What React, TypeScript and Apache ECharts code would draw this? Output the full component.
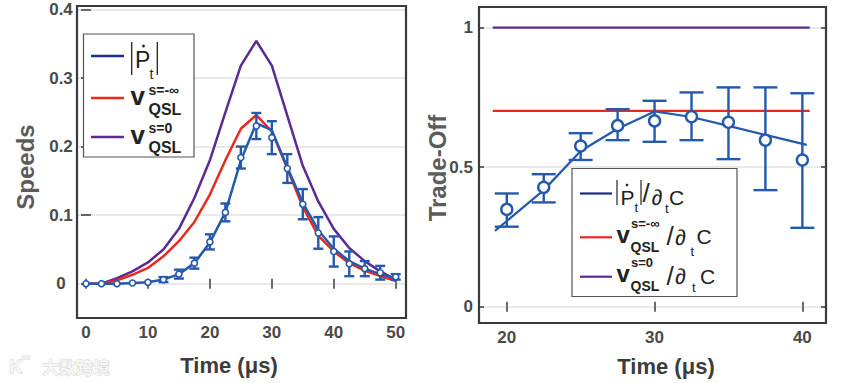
import React, { useEffect, useRef } from "react";
import * as echarts from "echarts";

// ---------- data (left panel: speeds) ----------
const timeL = [0, 2.5, 5, 7.5, 10, 12.5, 15, 17.5, 20, 22.5, 25, 27.5, 30, 32.5, 35, 37.5, 40, 42.5, 45, 47.5, 50];
const pdotMeas = [0, 0, 0, 0.001, 0.002, 0.006, 0.014, 0.03, 0.061, 0.104, 0.184, 0.23, 0.213, 0.168, 0.116, 0.074, 0.047, 0.029, 0.022, 0.016, 0.01];
const pdotErr = [0, 0, 0, 0, 0.001, 0.0036, 0.0065, 0.008, 0.011, 0.013, 0.016, 0.019, 0.024, 0.021, 0.022, 0.023, 0.022, 0.018, 0.011, 0.01, 0.004];
const pdotFit = [0, 0, 0, 0.001, 0.002, 0.006, 0.014, 0.03, 0.06, 0.104, 0.18, 0.234, 0.224, 0.17, 0.118, 0.078, 0.051, 0.033, 0.022, 0.014, 0.008];
const vqslInf = [0, 0, 0.005, 0.013, 0.023, 0.04, 0.062, 0.09, 0.13, 0.18, 0.226, 0.246, 0.222, 0.168, 0.112, 0.07, 0.047, 0.03, 0.019, 0.011, 0.004];
const vqslZero = [0, 0, 0.008, 0.018, 0.031, 0.05, 0.08, 0.125, 0.18, 0.25, 0.318, 0.354, 0.318, 0.245, 0.172, 0.12, 0.08, 0.052, 0.033, 0.018, 0.006];

// ---------- data (right panel: trade-off) ----------
const timeR = [20, 22.5, 25, 27.5, 30, 32.5, 35, 37.5, 40];
const ratioMeas = [0.349, 0.428, 0.576, 0.649, 0.666, 0.681, 0.661, 0.597, 0.526];
const ratioLo = [0.287, 0.374, 0.526, 0.597, 0.591, 0.597, 0.529, 0.418, 0.283];
const ratioHi = [0.406, 0.475, 0.622, 0.708, 0.738, 0.768, 0.786, 0.786, 0.765];
const timeFitR = [19.2, 22.5, 25, 27.5, 30, 32.5, 35, 37.5, 40.3];
const ratioFit = [0.272, 0.418, 0.558, 0.638, 0.7, 0.68, 0.648, 0.616, 0.58];
const boundSpan = [19.05, 40.5];
const boundInf = 0.702;
const boundZero = 1.0;

// ---------- axis ranges ----------
const xRangeL = [-1.45, 51.66];
const yRangeL = [-0.05, 0.405];
const xRangeR = [18.12, 41.6];
const yRangeR = [-0.058, 1.074];

const FONT = '"Liberation Sans", Arial, Helvetica, sans-serif';
const BLUE = "#2459ad";
const NAVY = "#1c2d8a";
const RED = "#e8291c";
const PURPLE = "#5c2a92";
const FRAME = "#3a3a3a";
const TICKCOL = "#4a4a4a";

const G0 = { left: 77, top: 6, width: 329, height: 312 };
const G1 = { left: 479, top: 7, width: 347, height: 316 };

function multipleFmt(step: number) {
  return (v: number) => {
    const r = Math.round(v / step);
    if (Math.abs(v / step - r) > 1e-6) return "";
    const val = r * step;
    return String(Math.round(val * 1000) / 1000);
  };
}

function mkAxis(gridIndex: number, range: number[], position: string, split: number, labels: boolean, step: number, margin: number, grid: boolean, align?: string) {
  return {
    type: "value",
    gridIndex,
    position,
    min: range[0],
    max: range[1],
    splitNumber: split,
    axisLine: { show: false },
    axisTick: { show: true, inside: true, length: 5, lineStyle: { color: FRAME, width: 1.5 } },
    axisLabel: labels
      ? {
          show: true,
          margin,
          formatter: multipleFmt(step),
          showMinLabel: false,
          showMaxLabel: false,
          color: TICKCOL,
          fontSize: 17,
          fontWeight: "bold",
          fontFamily: FONT,
          ...(align ? { align } : {}),
        }
      : { show: false },
    splitLine: grid
      ? { show: true, showMinLine: false, showMaxLine: false, lineStyle: { color: "#e2e2e2", width: 1.5 } }
      : { show: false },
  };
}

function errorBarSeries(data: number[][], xi: number, yi: number, cap: number, width: number) {
  return {
    type: "custom",
    xAxisIndex: xi,
    yAxisIndex: yi,
    z: 4,
    silent: true,
    encode: { x: 0, y: [1, 2] },
    data,
    renderItem: (params: any, api: any) => {
      const x = api.value(0);
      const lo = api.value(1);
      const hi = api.value(2);
      const a = api.coord([x, hi]);
      const b = api.coord([x, lo]);
      const hw = cap / 2;
      const style = { stroke: BLUE, lineWidth: width, fill: "none" };
      return {
        type: "group",
        children: [
          { type: "line", shape: { x1: a[0], y1: a[1], x2: b[0], y2: b[1] }, style },
          { type: "line", shape: { x1: a[0] - hw, y1: a[1], x2: a[0] + hw, y2: a[1] }, style },
          { type: "line", shape: { x1: b[0] - hw, y1: b[1], x2: b[0] + hw, y2: b[1] }, style },
        ],
      };
    },
  };
}

function txt(text: string, x: number, y: number, size: number, weight: string, color: string, align = "left", rotation = 0) {
  return {
    type: "text",
    x,
    y,
    rotation,
    z: 120,
    silent: true,
    style: {
      text,
      fill: color,
      fontSize: size,
      fontWeight: weight,
      fontFamily: FONT,
      align,
      verticalAlign: "middle",
      textAlign: align,
      textVerticalAlign: "middle",
    },
  };
}

function seg(x1: number, y1: number, x2: number, y2: number, color: string, w: number) {
  return { type: "line", z: 120, silent: true, shape: { x1, y1, x2, y2 }, style: { stroke: color, lineWidth: w } };
}

function buildOption() {
  const leftBars = timeL
    .map((t, i) => [t, pdotMeas[i] - pdotErr[i], pdotMeas[i] + pdotErr[i]])
    .filter((_, i) => pdotErr[i] > 0.0015);
  const rightBars = timeR.map((t, i) => [t, ratioLo[i], ratioHi[i]]);
  const TXT = "#222";

  const graphics: any[] = [
    // frames
    { type: "rect", z: 110, silent: true, shape: { x: G0.left, y: G0.top, width: G0.width, height: G0.height }, style: { fill: "none", stroke: FRAME, lineWidth: 2.2 } },
    { type: "rect", z: 110, silent: true, shape: { x: G1.left, y: G1.top, width: G1.width, height: G1.height }, style: { fill: "none", stroke: FRAME, lineWidth: 2.2 } },
    // axis titles
    txt("Speeds", 25, 167, 24, "bold", "#5b5b5b", "center", Math.PI / 2),
    txt("Time (μs)", 229, 365, 22, "bold", "#3c3c3c", "center"),
    txt("Trade-Off", 437, 168, 24, "bold", "#5b5b5b", "center", Math.PI / 2),
    txt("Time (μs)", 666, 366, 22, "bold", "#3c3c3c", "center"),

    // left legend
    { type: "rect", z: 115, silent: true, shape: { x: 83.5, y: 34, width: 110.5, height: 123 }, style: { fill: "#fff", stroke: "#555", lineWidth: 1.2 } },
    seg(91, 56, 124, 56, NAVY, 2.5),
    seg(91, 98, 124, 98, RED, 2.5),
    seg(91, 137, 124, 137, PURPLE, 2.5),
    seg(131.7, 42, 131.7, 75, TXT, 1.3),
    txt("P", 135, 60, 23, "normal", TXT),
    { type: "circle", z: 120, silent: true, shape: { cx: 143.5, cy: 46, r: 1.4 }, style: { fill: TXT } },
    txt("t", 149.5, 73.5, 14, "normal", TXT),
    seg(157.3, 42, 157.3, 75, TXT, 1.3),
    txt("v", 130.5, 96, 26, "bold", TXT),
    txt("s=-∞", 148.5, 90, 14, "bold", TXT),
    txt("QSL", 148.5, 109.3, 16, "bold", TXT),
    txt("v", 130.5, 134.5, 26, "bold", TXT),
    txt("s=0", 148.5, 128, 14, "bold", TXT),
    txt("QSL", 148.5, 147.5, 16, "bold", TXT),

    // right legend
    { type: "rect", z: 115, silent: true, shape: { x: 572, y: 168.5, width: 165, height: 128 }, style: { fill: "#fff", stroke: "#555", lineWidth: 1.2 } },
    seg(580, 193.5, 612, 193.5, NAVY, 2.2),
    seg(580, 237.3, 612, 237.3, RED, 2.2),
    seg(580, 276.7, 612, 276.7, PURPLE, 2.2),
    seg(617, 180, 617, 205, TXT, 1.2),
    txt("P", 620.5, 197.5, 21, "normal", TXT),
    { type: "circle", z: 120, silent: true, shape: { cx: 627, cy: 185, r: 1.3 }, style: { fill: TXT } },
    txt("t", 634.5, 207.5, 13, "normal", TXT),
    seg(641, 180, 641, 205, TXT, 1.2),
    txt("/", 642.5, 193, 26, "normal", TXT),
    txt("∂", 651.5, 197, 22, "normal", TXT),
    txt("t", 665, 208, 13, "normal", TXT),
    txt("C", 669, 197.5, 21, "normal", TXT),

    txt("v", 616.5, 234.7, 24, "bold", TXT),
    txt("s=-∞", 631, 223, 13, "bold", TXT),
    txt("QSL", 630.5, 246.7, 14, "bold", TXT),
    txt("/", 666.5, 236, 26, "normal", TXT),
    txt("∂", 675, 237, 22, "normal", TXT),
    txt("t", 690.5, 251, 13, "normal", TXT),
    txt("C", 696.5, 236.5, 21, "normal", TXT),

    txt("v", 616.5, 273.5, 24, "bold", TXT),
    txt("s=0", 631, 262, 13, "bold", TXT),
    txt("QSL", 630.5, 286, 14, "bold", TXT),
    txt("/", 666.5, 275.5, 26, "normal", TXT),
    txt("∂", 675, 276, 22, "normal", TXT),
    txt("t", 692, 287, 13, "normal", TXT),
    txt("C", 700, 276.5, 21, "normal", TXT),

    // watermark
    {
      type: "text", x: 9, y: 366, z: 120, silent: true,
      style: { text: "K", fill: "#f6f6f6", stroke: "#cfcfcf", lineWidth: 0.8, fontSize: 19, fontWeight: "bold", fontFamily: FONT, verticalAlign: "middle", textVerticalAlign: "middle" },
    },
    {
      type: "text", x: 22, y: 357, z: 120, silent: true,
      style: { text: "∞", fill: "#f6f6f6", stroke: "#cfcfcf", lineWidth: 0.8, fontSize: 12, fontWeight: "bold", fontFamily: FONT, verticalAlign: "middle", textVerticalAlign: "middle" },
    },
    {
      type: "text", x: 42, y: 366, z: 120, silent: true,
      style: { text: "大数跨境", fill: "#f6f6f6", stroke: "#cfcfcf", lineWidth: 0.8, fontSize: 17, fontWeight: "bold", fontFamily: '"Noto Sans CJK SC", sans-serif', verticalAlign: "middle", textVerticalAlign: "middle" },
    },
  ];

  return {
    animation: false,
    backgroundColor: "#ffffff",
    grid: [
      { ...G0, show: false, containLabel: false, outerBoundsMode: "none" },
      { ...G1, show: false, containLabel: false, outerBoundsMode: "none" },
    ],
    xAxis: [
      mkAxis(0, xRangeL, "bottom", 5, true, 10, 6, false),
      mkAxis(0, xRangeL, "top", 5, false, 10, 6, false),
      mkAxis(1, xRangeR, "bottom", 2, true, 10, 6, false),
      mkAxis(1, xRangeR, "top", 2, false, 10, 6, false),
    ],
    yAxis: [
      mkAxis(0, yRangeL, "left", 5, true, 0.1, 16, true, "center"),
      mkAxis(0, yRangeL, "right", 5, false, 0.1, 6, false),
      mkAxis(1, yRangeR, "left", 2, true, 0.5, 6, true),
      mkAxis(1, yRangeR, "right", 2, false, 0.5, 6, false),
    ],
    series: [
      // left panel
      { type: "line", xAxisIndex: 0, yAxisIndex: 0, z: 2, symbol: "none", showSymbol: false, silent: true, data: timeL.map((t, i) => [t, vqslZero[i]]), lineStyle: { color: PURPLE, width: 2.5 } },
      { type: "line", xAxisIndex: 0, yAxisIndex: 0, z: 2, symbol: "none", showSymbol: false, silent: true, data: timeL.map((t, i) => [t, vqslInf[i]]), lineStyle: { color: RED, width: 2.5 } },
      { type: "line", xAxisIndex: 0, yAxisIndex: 0, z: 3, symbol: "none", showSymbol: false, silent: true, data: timeL.map((t, i) => [t, pdotFit[i]]), lineStyle: { color: BLUE, width: 2.5 } },
      errorBarSeries(leftBars, 0, 0, 10, 2.4),
      { type: "scatter", xAxisIndex: 0, yAxisIndex: 0, z: 5, silent: true, symbol: "circle", symbolSize: 6, data: timeL.map((t, i) => [t, pdotMeas[i]]), itemStyle: { color: "#fff", borderColor: BLUE, borderWidth: 1.6, opacity: 1 } },
      // right panel
      { type: "line", xAxisIndex: 2, yAxisIndex: 2, z: 2, symbol: "none", showSymbol: false, silent: true, data: boundSpan.map((t) => [t, boundZero]), lineStyle: { color: PURPLE, width: 2.2 } },
      { type: "line", xAxisIndex: 2, yAxisIndex: 2, z: 2, symbol: "none", showSymbol: false, silent: true, data: boundSpan.map((t) => [t, boundInf]), lineStyle: { color: RED, width: 2.2 } },
      { type: "line", xAxisIndex: 2, yAxisIndex: 2, z: 3, symbol: "none", showSymbol: false, silent: true, data: timeFitR.map((t, i) => [t, ratioFit[i]]), lineStyle: { color: BLUE, width: 2.2 } },
      errorBarSeries(rightBars, 2, 2, 24, 2.4),
      { type: "scatter", xAxisIndex: 2, yAxisIndex: 2, z: 5, silent: true, symbol: "circle", symbolSize: 11, data: timeR.map((t, i) => [t, ratioMeas[i]]), itemStyle: { color: "#fff", borderColor: BLUE, borderWidth: 2.4, opacity: 1 } },
    ],
    graphic: { elements: graphics },
  };
}

export default function App() {
  const ref = useRef<HTMLDivElement>(null);
  useEffect(() => {
    if (!ref.current) return;
    const chart = echarts.init(ref.current, null, { renderer: "svg" });
    chart.setOption(buildOption() as any);
    return () => chart.dispose();
  }, []);
  return (
    <div
      ref={ref}
      style={{ position: "absolute", left: 0, top: 0, width: 847, height: 383, background: "#fff" }}
    />
  );
}
